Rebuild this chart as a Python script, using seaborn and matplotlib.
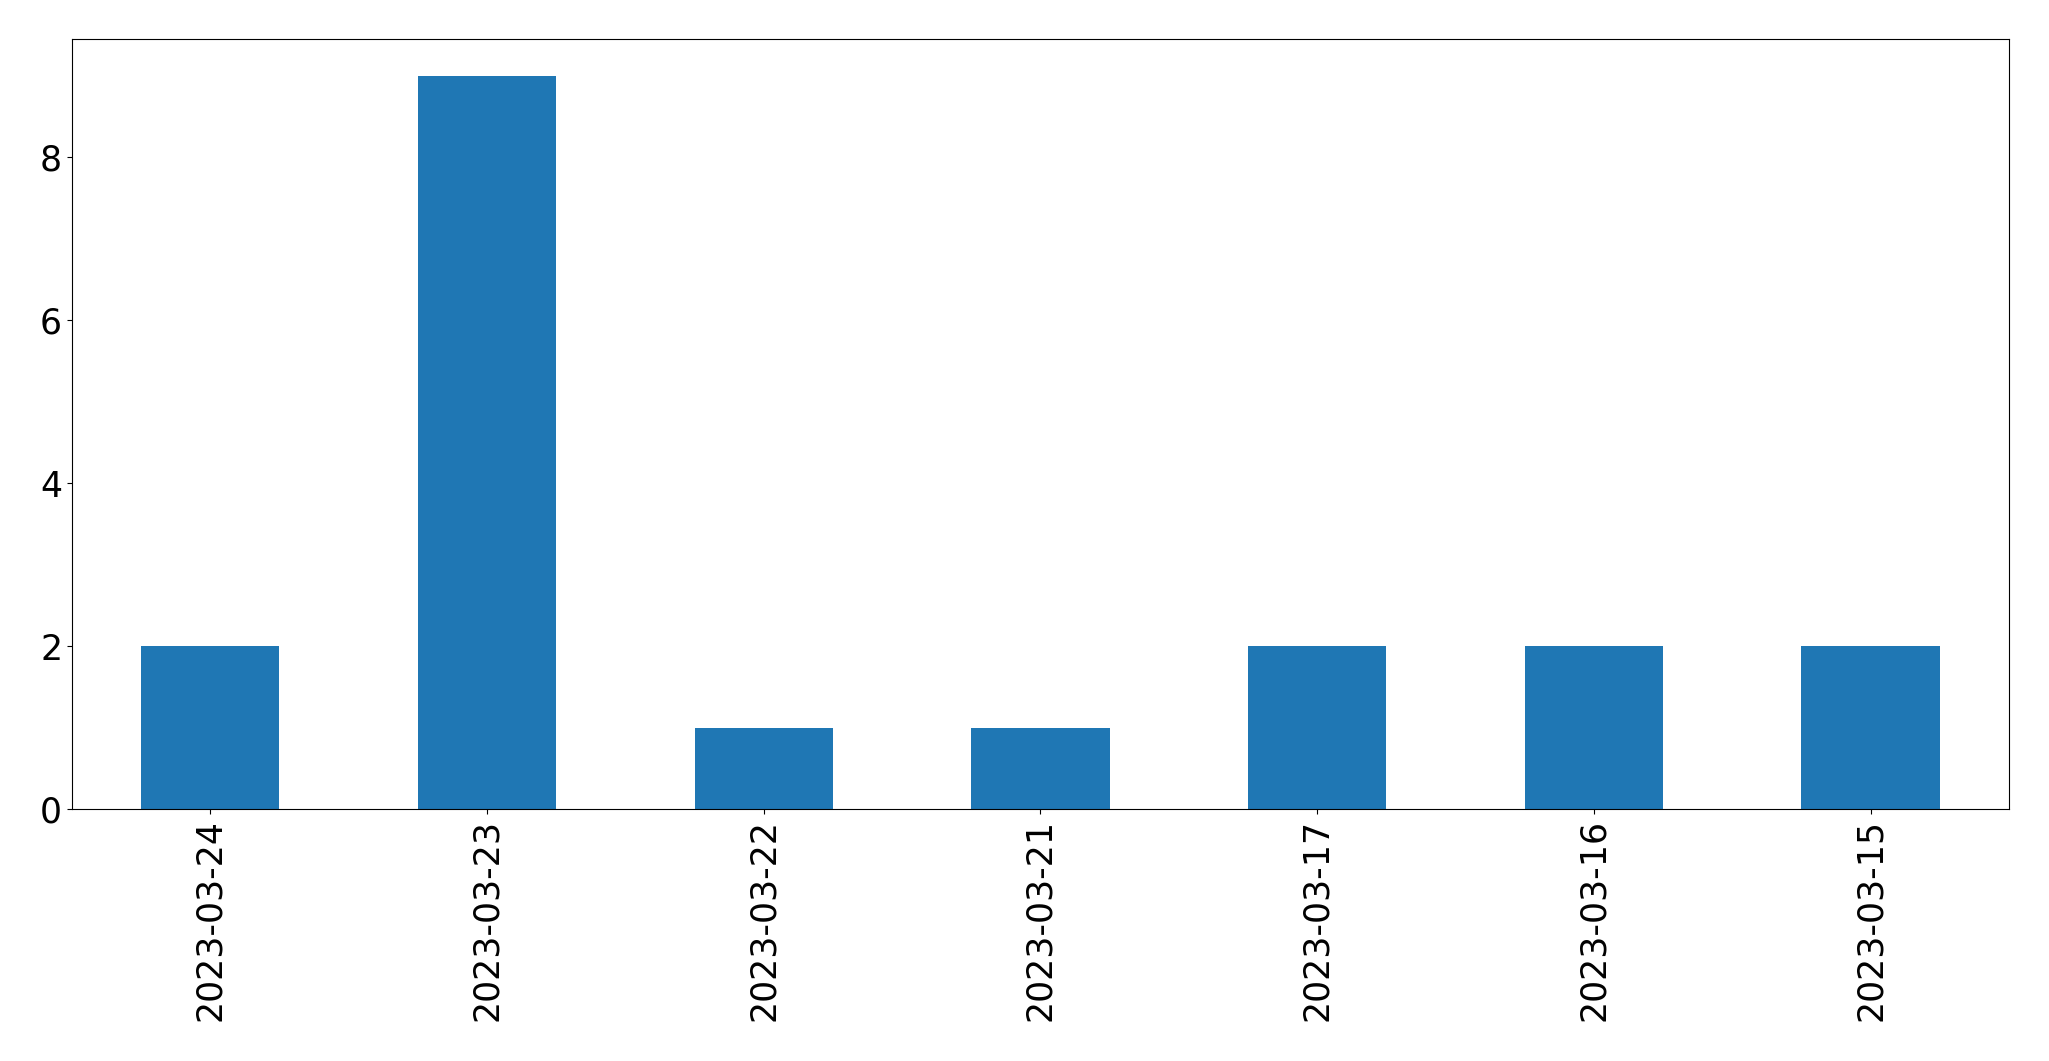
import matplotlib
matplotlib.use("Agg")
import matplotlib.pyplot as plt
import seaborn as sns
import pandas as pd

dates = ["2023-03-24", "2023-03-23", "2023-03-22", "2023-03-21",
         "2023-03-17", "2023-03-16", "2023-03-15"]
counts = [2, 9, 1, 1, 2, 2, 2]

df = pd.DataFrame({"date": dates, "count": counts})

fig, ax = plt.subplots(figsize=(20.49, 10.61), dpi=100)
fig.subplots_adjust(left=0.0351, right=0.9805, top=0.963, bottom=0.2375)

sns.barplot(data=df, x="date", y="count", color="#1f77b4", saturation=1,
            width=0.5, ax=ax)

ax.set_xlim(-0.5, len(dates) - 0.5)
ax.set_ylim(0, max(counts) * 1.05)
ax.set_xlabel("")
ax.set_ylabel("")
ax.tick_params(axis="both", labelsize=25)
ax.tick_params(axis="x", labelrotation=90)

fig.savefig("out.png", dpi=100)
